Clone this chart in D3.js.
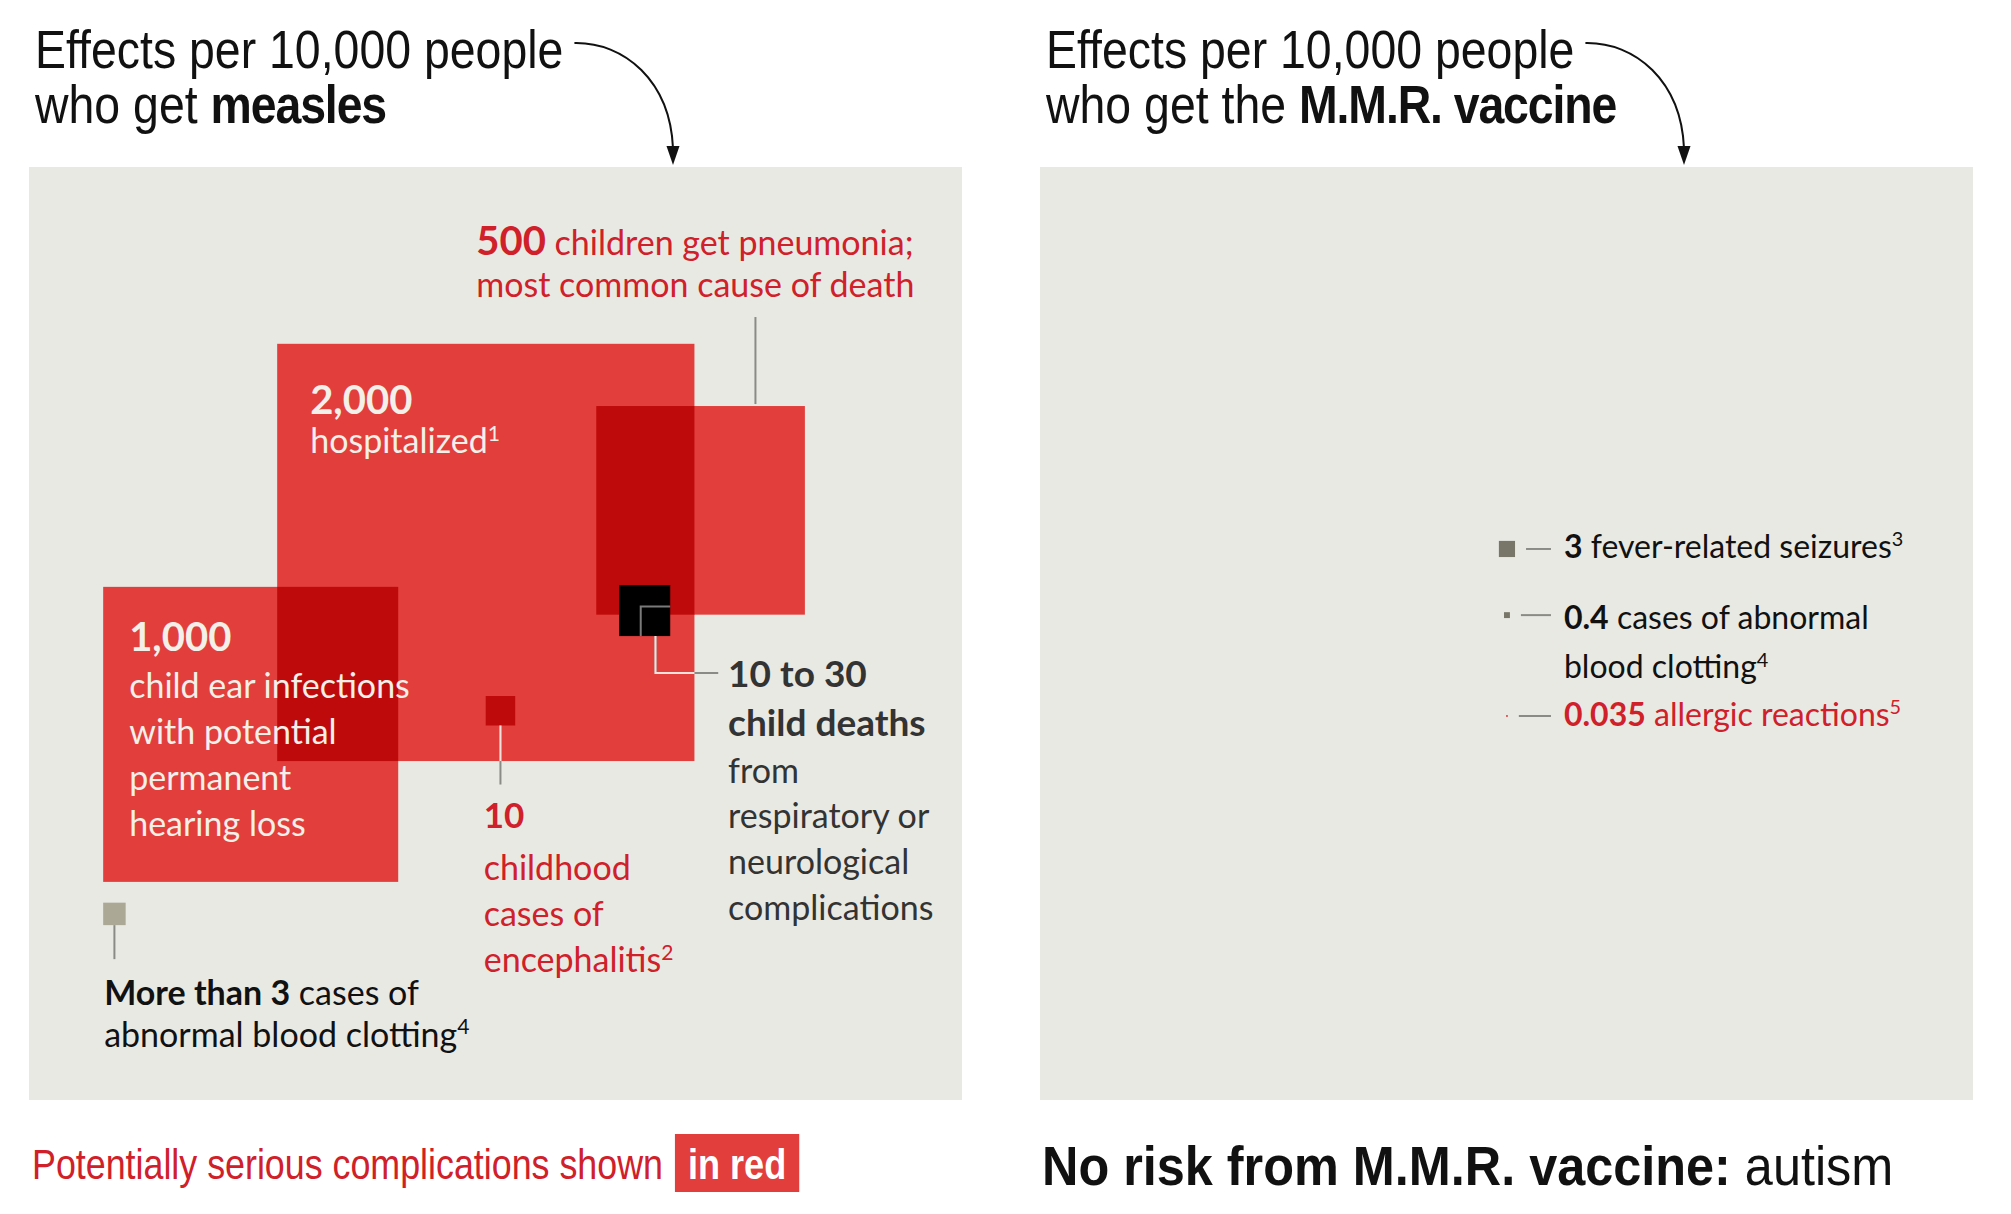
<!DOCTYPE html>
<html><head><meta charset="utf-8">
<script src="https://cdn.jsdelivr.net/npm/d3@7/dist/d3.min.js"></script>
<style>
html,body{margin:0;padding:0;background:#ffffff;}
svg{display:block;}
</style></head><body>
<script>
// ---------------- DATA ----------------
// Left panel: effects per 10,000 people who get measles
const measlesKeys   = ["hospitalized", "pneumonia", "earInfections", "deathsHigh", "deathsLow", "encephalitis", "bloodClotting"];
const measlesValues = [2000, 500, 1000, 30, 10, 10, 5.8];
const measlesKinds  = ["red", "red", "red", "black", "outline", "red", "gray"];
// Right panel: effects per 10,000 people who get the M.M.R. vaccine
const vaccineKeys   = ["seizures", "clotting", "allergic"];
const vaccineValues = [3, 0.4, 0.035];
const vaccineKinds  = ["darkgray", "darkgray", "red"];
// Total population represented by one panel
const populationTotal = 10000;

// ---------------- LAYOUT (panel units: 0–100 = sqrt of population) ----------------
const measlesPosX = [26.6, 60.8, 7.95, 63.25, null, 48.95, 7.95];
const measlesPosY = [18.95, 25.62, 45.0, 44.8, null, 56.7, 78.85];
const vaccineCenterX = [50.05, 50.05, 50.05];
const vaccineCenterY = [40.94, 48.03, 58.84];

const W = 2011, H = 1214;
const panelSize = 933;
const panels = [{x: 29, y: 167}, {x: 1040, y: 167}];
const colors = {
  bg: "#e9e9e4", red: "#e23e3c", overlap: "#bf0a0b", black: "#000000",
  gray: "#aba896", darkgray: "#777668", textRed: "#d0202a", white: "#f3efe9",
  dark: "#333333", ink: "#111111", leader: "#8a8a86", leaderLight: "#f3e1dd"
};
const sans = "'Liberation Sans', Arial, sans-serif";
const lato = "Lato, 'Noto Sans', sans-serif";

const unit = d3.scaleLinear().domain([0, Math.sqrt(populationTotal)]).range([0, panelSize]);
const side = v => unit(Math.sqrt(v));

const svg = d3.select("body").append("svg").attr("width", W).attr("height", H);

// condensed text: Liberation Sans squeezed horizontally
function narrowText(x, y, size, sx, fill, parts, boldSpacing) {
  const g = svg.append("g").attr("transform", `translate(${x},${y}) scale(${sx},1)`);
  const t = g.append("text").attr("x", 0).attr("y", 0)
    .attr("font-family", sans).attr("font-size", size).attr("fill", fill);
  parts.forEach(p => {
    const ts = t.append("tspan").attr("font-weight", p[1] ? 700 : 400).text(p[0]);
    if (p[1] && boldSpacing) ts.attr("letter-spacing", boldSpacing);
  });
  return {g, t, width: t.node().getComputedTextLength() * sx};
}

// ---------------- HEADERS ----------------
function header(px, parts2) {
  const l1 = narrowText(px + 6, 68, 54, 0.86, colors.ink, [["Effects per 10,000 people", false]]);
  narrowText(px + 6, 123, 54, 0.86, colors.ink, parts2, -1.3);
  const sx = px + 6 + l1.width + 11, sy = 43, tx = px + 644, ty = 148;
  svg.append("path").attr("d", `M${sx},${sy} C${sx + 50},${sy - 1} ${tx - 3},${sy + 38} ${tx},${ty}`)
    .attr("fill", "none").attr("stroke", colors.ink).attr("stroke-width", 2);
  svg.append("path").attr("d", `M${tx - 6.5},${ty - 2} L${tx + 6.5},${ty - 2} L${tx},${ty + 17} Z`)
    .attr("fill", colors.ink);
}
header(panels[0].x, [["who get ", false], ["measles", true]]);
header(panels[1].x, [["who get the ", false], ["M.M.R. vaccine", true]]);

// ---------------- PANELS ----------------
panels.forEach(p => svg.append("rect").attr("x", p.x).attr("y", p.y)
  .attr("width", panelSize).attr("height", panelSize).attr("fill", colors.bg));

// ---- Left panel squares
const gL = svg.append("g").attr("transform", `translate(${panels[0].x},${panels[0].y})`);
const msq = measlesKeys.map((k, i) => ({
  key: k, value: measlesValues[i], kind: measlesKinds[i],
  x: measlesPosX[i] == null ? null : unit(measlesPosX[i]),
  y: measlesPosY[i] == null ? null : unit(measlesPosY[i]),
  s: side(measlesValues[i])
}));
// the "low" death estimate sits in the lower-right corner of the high estimate
const dHigh = msq.find(d => d.key === "deathsHigh");
const dLow = msq.find(d => d.key === "deathsLow");
dLow.x = dHigh.x + dHigh.s - dLow.s;
dLow.y = dHigh.y + dHigh.s - dLow.s;

const reds = msq.filter(d => d.kind === "red");
gL.selectAll("rect.red").data(reds).join("rect").attr("class", "red")
  .attr("x", d => d.x).attr("y", d => d.y).attr("width", d => d.s).attr("height", d => d.s)
  .attr("fill", colors.red);
// overlaps between red squares are drawn darker
const overlaps = [];
for (let i = 0; i < reds.length; i++) for (let j = i + 1; j < reds.length; j++) {
  const a = reds[i], b = reds[j];
  const x0 = Math.max(a.x, b.x), x1 = Math.min(a.x + a.s, b.x + b.s);
  const y0 = Math.max(a.y, b.y), y1 = Math.min(a.y + a.s, b.y + b.s);
  if (x1 > x0 && y1 > y0) overlaps.push({x: x0, y: y0, w: x1 - x0, h: y1 - y0});
}
gL.selectAll("rect.ov").data(overlaps).join("rect").attr("class", "ov")
  .attr("x", d => d.x).attr("y", d => d.y).attr("width", d => d.w).attr("height", d => d.h)
  .attr("fill", colors.overlap);
gL.append("rect").attr("x", dHigh.x).attr("y", dHigh.y).attr("width", dHigh.s).attr("height", dHigh.s)
  .attr("fill", colors.black);
gL.append("path")
  .attr("d", `M${dLow.x},${dLow.y + dLow.s} V${dLow.y} H${dLow.x + dLow.s}`)
  .attr("fill", "none").attr("stroke", "#7a7a7a").attr("stroke-width", 2);
const clot = msq.find(d => d.key === "bloodClotting");
gL.append("rect").attr("x", clot.x).attr("y", clot.y).attr("width", clot.s).attr("height", clot.s)
  .attr("fill", colors.gray);

// leaders (light inside the hospitalized square, gray outside)
const hosp = msq.find(d => d.key === "hospitalized");
const pneu = msq.find(d => d.key === "pneumonia");
const enc = msq.find(d => d.key === "encephalitis");
const ear = msq.find(d => d.key === "earInfections");
gL.append("clipPath").attr("id", "hospClip").append("rect")
  .attr("x", hosp.x).attr("y", hosp.y).attr("width", hosp.s).attr("height", hosp.s);
const leaders = [
  `M${pneu.x + pneu.s * 0.763},${pneu.y - 2} V${pneu.y - 89}`,
  `M${enc.x + enc.s / 2},${enc.y + enc.s} V${enc.y + enc.s + 59}`,
  `M${dLow.x + dLow.s / 2},${dLow.y + dLow.s} V${dLow.y + dLow.s + 37} H${dHigh.x + dHigh.s + 48}`,
  `M${clot.x + clot.s / 2},${clot.y + clot.s} V${clot.y + clot.s + 34}`
];
gL.selectAll("path.ld").data(leaders).join("path").attr("class", "ld").attr("d", d => d)
  .attr("fill", "none").attr("stroke", colors.leader).attr("stroke-width", 2);
gL.selectAll("path.ldl").data(leaders).join("path").attr("class", "ldl").attr("d", d => d)
  .attr("clip-path", "url(#hospClip)")
  .attr("fill", "none").attr("stroke", colors.leaderLight).attr("stroke-width", 2);

// ---- text helper: lines = [{y, size, segs:[[text, weight, size?, sup?]]}]
function label(g, x, fill, lines) {
  const t = g.append("text").attr("font-family", lato).attr("fill", fill);
  lines.forEach(L => {
    let first = true;
    L.segs.forEach(s => {
      const sz = s[2] || L.size;
      const ts = t.append("tspan").text(s[0]).attr("font-weight", s[1]);
      if (first) { ts.attr("x", x).attr("y", L.y); first = false; }
      if (s[3]) ts.attr("font-size", sz * 0.62).attr("dy", -sz * 0.36);
      else ts.attr("font-size", sz);
    });
  });
  return t;
}

// Left panel labels
label(gL, hosp.x + 33, colors.white, [
  {y: hosp.y + 70, size: 40, segs: [["2,000", 700]]},
  {y: hosp.y + 109, size: 34, segs: [["hospitalized", 400], ["1", 400, 34, true]]}
]);
label(gL, ear.x + 26, colors.white, [
  {y: ear.y + 64, size: 40, segs: [["1,000", 700]]},
  {y: ear.y + 111, size: 34, segs: [["child ear infections", 400]]},
  {y: ear.y + 157, size: 34, segs: [["with potential", 400]]},
  {y: ear.y + 203, size: 34, segs: [["permanent", 400]]},
  {y: ear.y + 249, size: 34, segs: [["hearing loss", 400]]}
]);
label(gL, pneu.x - 120, colors.textRed, [
  {y: pneu.y - 151, size: 34, segs: [["500", 700, 40], [" children get pneumonia;", 400]]},
  {y: pneu.y - 109, size: 34, segs: [["most common cause of death", 400]]}
]);
label(gL, enc.x - 2, colors.textRed, [
  {y: enc.y + 132, size: 35, segs: [["10", 700]]},
  {y: enc.y + 184, size: 34, segs: [["childhood", 400]]},
  {y: enc.y + 230, size: 34, segs: [["cases of", 400]]},
  {y: enc.y + 276, size: 34, segs: [["encephalitis", 400], ["2", 400, 34, true]]}
]);
label(gL, dHigh.x + 109, colors.dark, [
  {y: dHigh.y + 102, size: 37, segs: [["10 to 30", 700]]},
  {y: dHigh.y + 151, size: 37, segs: [["child deaths", 700]]},
  {y: dHigh.y + 198, size: 34, segs: [["from", 400]]},
  {y: dHigh.y + 243, size: 34, segs: [["respiratory or", 400]]},
  {y: dHigh.y + 289, size: 34, segs: [["neurological", 400]]},
  {y: dHigh.y + 335, size: 34, segs: [["complications", 400]]}
]);
label(gL, clot.x + 1, colors.ink, [
  {y: clot.y + 102, size: 34, segs: [["More than 3", 700], [" cases of", 400]]},
  {y: clot.y + 144, size: 34, segs: [["abnormal blood clotting", 400], ["4", 400, 34, true]]}
]);

// ---- Right panel
const gR = svg.append("g").attr("transform", `translate(${panels[1].x},${panels[1].y})`);
const vsq = vaccineKeys.map((k, i) => ({
  key: k, value: vaccineValues[i], kind: vaccineKinds[i],
  cx: unit(vaccineCenterX[i]), cy: unit(vaccineCenterY[i]), s: side(vaccineValues[i])
}));
gR.selectAll("rect.v").data(vsq).join("rect").attr("class", "v")
  .attr("x", d => d.cx - d.s / 2).attr("y", d => d.cy - d.s / 2)
  .attr("width", d => d.s).attr("height", d => d.s)
  .attr("fill", d => d.kind === "red" ? colors.red : colors.darkgray);
gR.selectAll("line.v").data(vsq).join("line").attr("class", "v")
  .attr("x1", d => d.cx + Math.max(d.s / 2 + 11, 10.5)).attr("x2", d => d.cx + 44)
  .attr("y1", d => d.cy).attr("y2", d => d.cy)
  .attr("stroke", colors.leader).attr("stroke-width", 2);
const tx = vsq[0].cx + 57;
label(gR, tx, colors.ink, [
  {y: vsq[0].cy + 9, size: 32, segs: [["3", 700], [" fever-related seizures", 400], ["3", 400, 32, true]]}
]);
label(gR, tx, colors.ink, [
  {y: vsq[1].cy + 14, size: 32, segs: [["0.4", 700], [" cases of abnormal", 400]]},
  {y: vsq[1].cy + 63, size: 32, segs: [["blood clotting", 400], ["4", 400, 32, true]]}
]);
label(gR, tx, colors.textRed, [
  {y: vsq[2].cy + 10, size: 32, segs: [["0.035", 700], [" allergic reactions", 400], ["5", 400, 32, true]]}
]);

// ---------------- FOOTERS ----------------
const f1 = narrowText(32, 1179, 42, 0.853, colors.textRed, [["Potentially serious complications shown", false]]);
const boxX = 32 + f1.width + 12;
const box = svg.append("rect").attr("x", boxX).attr("y", 1134).attr("height", 58).attr("fill", colors.red);
const inRed = narrowText(boxX + 13, 1179, 42, 0.86, "#ffffff", [["in red", true]]);
box.attr("width", inRed.width + 26);
narrowText(1042, 1185, 56, 0.9, colors.ink, [["No risk from M.M.R. vaccine:", true], [" autism", false]]);
</script>
</body></html>
